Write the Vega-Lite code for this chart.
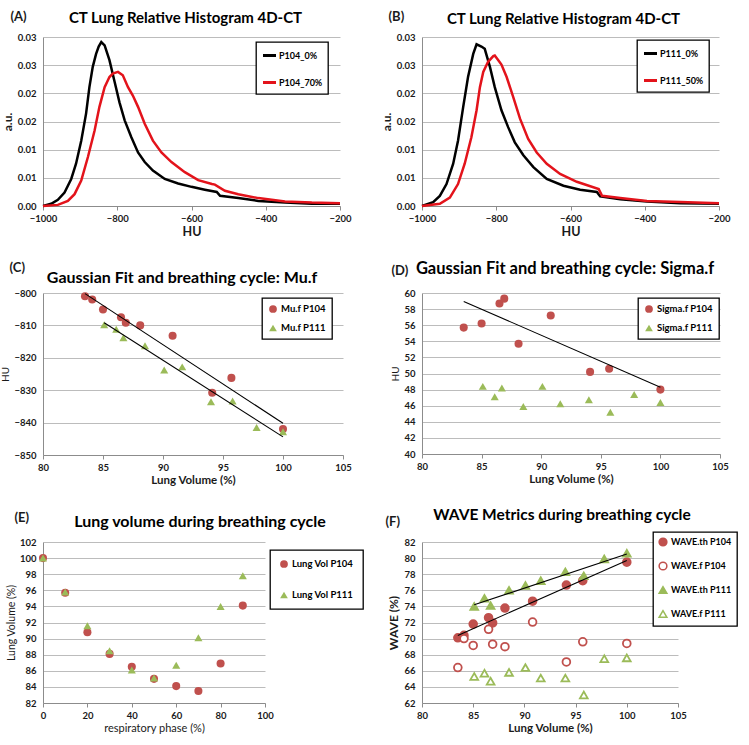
{
  "$schema": "https://vega.github.io/schema/vega-lite/v6.json",
  "padding": {"left": 0, "top": 10, "right": 0, "bottom": 0},
  "background": "white",
  "columns": 2,
  "bounds": "flush",
  "align": "each",
  "spacing": {"row": 87, "column": 79},
  "resolve": {
    "scale": {"color": "independent", "shape": "independent", "fill": "independent", "stroke": "independent"},
    "legend": {"color": "independent", "shape": "independent", "fill": "independent", "stroke": "independent"}
  },
  "config": {
    "font": "Lato",
    "view": {"stroke": null},
    "axis": {"labelFont": "Lato", "labelFontWeight": "bold", "labelFontSize": 9.5, "labelColor": "#1a1a1a", "titleFont": "Lato", "titleFontSize": 11.5, "titleFontWeight": "bold", "titleColor": "#1a1a1a", "domainColor": "#8c8c8c", "tickColor": "#8c8c8c", "gridColor": "#bcbcbc", "labelFlush": false, "labelOverlap": false},
    "axisX": {"grid": false, "tickSize": 4, "labelPadding": 3, "titlePadding": 3},
    "axisY": {"grid": true, "ticks": false, "labelPadding": 7, "titlePadding": 3},
    "legend": {"orient": "none", "strokeColor": "#000000", "strokeWidth": 1.3, "fillColor": "#ffffff", "padding": 6, "labelFont": "Lato", "labelFontSize": 9.5, "labelFontWeight": "bold", "labelColor": "#000000", "rowPadding": 11, "symbolSize": 60, "symbolStrokeWidth": 1.5, "labelOffset": 3},
    "title": {"font": "Lato", "fontSize": 15.5, "fontWeight": "bold", "color": "#000000", "anchor": "middle", "frame": "group"}
  },
  "datasets": {
    "histA": [
      {"HU": -1000, "v": 0, "s": "P104_0%"}, {"HU": -978, "v": 0.0004, "s": "P104_0%"}, {"HU": -960, "v": 0.0011, "s": "P104_0%"}, {"HU": -942, "v": 0.0024, "s": "P104_0%"}, {"HU": -924, "v": 0.0048, "s": "P104_0%"}, {"HU": -911, "v": 0.0075, "s": "P104_0%"}, {"HU": -897, "v": 0.0116, "s": "P104_0%"}, {"HU": -884, "v": 0.0164, "s": "P104_0%"}, {"HU": -875, "v": 0.0211, "s": "P104_0%"}, {"HU": -866, "v": 0.0247, "s": "P104_0%"}, {"HU": -857, "v": 0.027, "s": "P104_0%"}, {"HU": -850, "v": 0.0283, "s": "P104_0%"}, {"HU": -843, "v": 0.0291, "s": "P104_0%"}, {"HU": -834, "v": 0.0285, "s": "P104_0%"}, {"HU": -821, "v": 0.0259, "s": "P104_0%"}, {"HU": -807, "v": 0.022, "s": "P104_0%"}, {"HU": -794, "v": 0.0184, "s": "P104_0%"}, {"HU": -780, "v": 0.0152, "s": "P104_0%"}, {"HU": -762, "v": 0.0122, "s": "P104_0%"}, {"HU": -744, "v": 0.0095, "s": "P104_0%"}, {"HU": -726, "v": 0.0078, "s": "P104_0%"}, {"HU": -704, "v": 0.0063, "s": "P104_0%"}, {"HU": -672, "v": 0.0048, "s": "P104_0%"}, {"HU": -636, "v": 0.004, "s": "P104_0%"}, {"HU": -600, "v": 0.0034, "s": "P104_0%"}, {"HU": -564, "v": 0.0029, "s": "P104_0%"}, {"HU": -532, "v": 0.0025, "s": "P104_0%"}, {"HU": -523, "v": 0.0018, "s": "P104_0%"}, {"HU": -474, "v": 0.0014, "s": "P104_0%"}, {"HU": -420, "v": 0.0009, "s": "P104_0%"}, {"HU": -348, "v": 0.0006, "s": "P104_0%"}, {"HU": -276, "v": 0.0004, "s": "P104_0%"}, {"HU": -200, "v": 0.0004, "s": "P104_0%"},
      {"HU": -1000, "v": 0, "s": "P104_70%"}, {"HU": -960, "v": 0.0002, "s": "P104_70%"}, {"HU": -933, "v": 0.0009, "s": "P104_70%"}, {"HU": -915, "v": 0.0021, "s": "P104_70%"}, {"HU": -897, "v": 0.0045, "s": "P104_70%"}, {"HU": -879, "v": 0.0087, "s": "P104_70%"}, {"HU": -861, "v": 0.0134, "s": "P104_70%"}, {"HU": -848, "v": 0.0176, "s": "P104_70%"}, {"HU": -834, "v": 0.0211, "s": "P104_70%"}, {"HU": -821, "v": 0.0229, "s": "P104_70%"}, {"HU": -812, "v": 0.0235, "s": "P104_70%"}, {"HU": -798, "v": 0.0238, "s": "P104_70%"}, {"HU": -785, "v": 0.0232, "s": "P104_70%"}, {"HU": -771, "v": 0.0211, "s": "P104_70%"}, {"HU": -758, "v": 0.0196, "s": "P104_70%"}, {"HU": -744, "v": 0.0176, "s": "P104_70%"}, {"HU": -726, "v": 0.0146, "s": "P104_70%"}, {"HU": -704, "v": 0.0116, "s": "P104_70%"}, {"HU": -681, "v": 0.0095, "s": "P104_70%"}, {"HU": -654, "v": 0.0078, "s": "P104_70%"}, {"HU": -618, "v": 0.006, "s": "P104_70%"}, {"HU": -582, "v": 0.0046, "s": "P104_70%"}, {"HU": -545, "v": 0.0039, "s": "P104_70%"}, {"HU": -537, "v": 0.0038, "s": "P104_70%"}, {"HU": -510, "v": 0.0027, "s": "P104_70%"}, {"HU": -474, "v": 0.0021, "s": "P104_70%"}, {"HU": -420, "v": 0.0014, "s": "P104_70%"}, {"HU": -348, "v": 0.0008, "s": "P104_70%"}, {"HU": -276, "v": 0.0006, "s": "P104_70%"}, {"HU": -200, "v": 0.0005, "s": "P104_70%"}
    ],
    "histB": [
      {"HU": -1000, "v": 0, "s": "P111_0%"}, {"HU": -970, "v": 0.0007, "s": "P111_0%"}, {"HU": -952, "v": 0.0018, "s": "P111_0%"}, {"HU": -934, "v": 0.0039, "s": "P111_0%"}, {"HU": -916, "v": 0.0075, "s": "P111_0%"}, {"HU": -903, "v": 0.0116, "s": "P111_0%"}, {"HU": -889, "v": 0.0176, "s": "P111_0%"}, {"HU": -876, "v": 0.0229, "s": "P111_0%"}, {"HU": -862, "v": 0.027, "s": "P111_0%"}, {"HU": -853, "v": 0.0287, "s": "P111_0%"}, {"HU": -840, "v": 0.0283, "s": "P111_0%"}, {"HU": -831, "v": 0.0279, "s": "P111_0%"}, {"HU": -817, "v": 0.0247, "s": "P111_0%"}, {"HU": -804, "v": 0.0211, "s": "P111_0%"}, {"HU": -786, "v": 0.017, "s": "P111_0%"}, {"HU": -768, "v": 0.014, "s": "P111_0%"}, {"HU": -750, "v": 0.0113, "s": "P111_0%"}, {"HU": -727, "v": 0.009, "s": "P111_0%"}, {"HU": -700, "v": 0.0069, "s": "P111_0%"}, {"HU": -664, "v": 0.0048, "s": "P111_0%"}, {"HU": -619, "v": 0.0036, "s": "P111_0%"}, {"HU": -574, "v": 0.0029, "s": "P111_0%"}, {"HU": -529, "v": 0.0025, "s": "P111_0%"}, {"HU": -520, "v": 0.0017, "s": "P111_0%"}, {"HU": -466, "v": 0.0012, "s": "P111_0%"}, {"HU": -394, "v": 0.0008, "s": "P111_0%"}, {"HU": -304, "v": 0.0005, "s": "P111_0%"}, {"HU": -200, "v": 0.0004, "s": "P111_0%"},
      {"HU": -1000, "v": 0, "s": "P111_50%"}, {"HU": -952, "v": 0.0004, "s": "P111_50%"}, {"HU": -925, "v": 0.0015, "s": "P111_50%"}, {"HU": -903, "v": 0.0039, "s": "P111_50%"}, {"HU": -885, "v": 0.0075, "s": "P111_50%"}, {"HU": -867, "v": 0.0122, "s": "P111_50%"}, {"HU": -853, "v": 0.017, "s": "P111_50%"}, {"HU": -844, "v": 0.0211, "s": "P111_50%"}, {"HU": -835, "v": 0.0238, "s": "P111_50%"}, {"HU": -822, "v": 0.0256, "s": "P111_50%"}, {"HU": -808, "v": 0.0266, "s": "P111_50%"}, {"HU": -804, "v": 0.0267, "s": "P111_50%"}, {"HU": -795, "v": 0.0259, "s": "P111_50%"}, {"HU": -786, "v": 0.0251, "s": "P111_50%"}, {"HU": -772, "v": 0.0229, "s": "P111_50%"}, {"HU": -754, "v": 0.0193, "s": "P111_50%"}, {"HU": -736, "v": 0.0155, "s": "P111_50%"}, {"HU": -714, "v": 0.0119, "s": "P111_50%"}, {"HU": -691, "v": 0.0095, "s": "P111_50%"}, {"HU": -664, "v": 0.0075, "s": "P111_50%"}, {"HU": -628, "v": 0.0057, "s": "P111_50%"}, {"HU": -583, "v": 0.0043, "s": "P111_50%"}, {"HU": -524, "v": 0.003, "s": "P111_50%"}, {"HU": -515, "v": 0.0018, "s": "P111_50%"}, {"HU": -466, "v": 0.0014, "s": "P111_50%"}, {"HU": -394, "v": 0.0009, "s": "P111_50%"}, {"HU": -304, "v": 0.0007, "s": "P111_50%"}, {"HU": -200, "v": 0.0005, "s": "P111_50%"}
    ],
    "muf": [
      {"s": "Mu.f P104", "x": 100, "y": -842.0}, {"s": "Mu.f P104", "x": 95.7, "y": -826.2}, {"s": "Mu.f P104", "x": 90.8, "y": -813.2}, {"s": "Mu.f P104", "x": 88.1, "y": -810.0}, {"s": "Mu.f P104", "x": 86.5, "y": -807.5}, {"s": "Mu.f P104", "x": 85.0, "y": -805.1}, {"s": "Mu.f P104", "x": 84.1, "y": -802.0}, {"s": "Mu.f P104", "x": 83.5, "y": -801.0}, {"s": "Mu.f P104", "x": 86.9, "y": -809.2}, {"s": "Mu.f P104", "x": 94.1, "y": -830.8},
      {"s": "Mu.f P111", "x": 100, "y": -842.8}, {"s": "Mu.f P111", "x": 95.8, "y": -833.3}, {"s": "Mu.f P111", "x": 91.6, "y": -822.8}, {"s": "Mu.f P111", "x": 88.5, "y": -816.3}, {"s": "Mu.f P111", "x": 86.1, "y": -811.2}, {"s": "Mu.f P111", "x": 85.1, "y": -809.8}, {"s": "Mu.f P111", "x": 86.7, "y": -813.8}, {"s": "Mu.f P111", "x": 90.1, "y": -823.8}, {"s": "Mu.f P111", "x": 94.0, "y": -833.6}, {"s": "Mu.f P111", "x": 97.8, "y": -841.5}
    ],
    "mufTrend": [
      {"g": "P104", "x": 83.5, "y": -800.2}, {"g": "P104", "x": 100, "y": -840.2},
      {"g": "P111", "x": 85.1, "y": -809.2}, {"g": "P111", "x": 100, "y": -844.4}
    ],
    "sigf": [
      {"s": "Sigma.f P104", "x": 100, "y": 48.0}, {"s": "Sigma.f P104", "x": 95.7, "y": 50.6}, {"s": "Sigma.f P104", "x": 90.8, "y": 57.2}, {"s": "Sigma.f P104", "x": 88.1, "y": 53.7}, {"s": "Sigma.f P104", "x": 86.5, "y": 58.7}, {"s": "Sigma.f P104", "x": 85.0, "y": 56.2}, {"s": "Sigma.f P104", "x": 83.5, "y": 55.7}, {"s": "Sigma.f P104", "x": 86.9, "y": 59.3}, {"s": "Sigma.f P104", "x": 94.1, "y": 50.2},
      {"s": "Sigma.f P111", "x": 100, "y": 46.4}, {"s": "Sigma.f P111", "x": 95.8, "y": 45.2}, {"s": "Sigma.f P111", "x": 91.6, "y": 46.25}, {"s": "Sigma.f P111", "x": 88.5, "y": 45.9}, {"s": "Sigma.f P111", "x": 86.1, "y": 47.1}, {"s": "Sigma.f P111", "x": 85.1, "y": 48.4}, {"s": "Sigma.f P111", "x": 86.7, "y": 48.2}, {"s": "Sigma.f P111", "x": 90.1, "y": 48.4}, {"s": "Sigma.f P111", "x": 94.0, "y": 46.75}, {"s": "Sigma.f P111", "x": 97.8, "y": 47.4}
    ],
    "sigfTrend": [
      {"g": "P104", "x": 83.5, "y": 58.95}, {"g": "P104", "x": 100, "y": 48.3}
    ],
    "lv": [
      {"s": "Lung Vol P104", "x": 0, "y": 100}, {"s": "Lung Vol P104", "x": 10, "y": 95.7}, {"s": "Lung Vol P104", "x": 20, "y": 90.8}, {"s": "Lung Vol P104", "x": 30, "y": 88.1}, {"s": "Lung Vol P104", "x": 40, "y": 86.5}, {"s": "Lung Vol P104", "x": 50, "y": 85.0}, {"s": "Lung Vol P104", "x": 60, "y": 84.1}, {"s": "Lung Vol P104", "x": 70, "y": 83.5}, {"s": "Lung Vol P104", "x": 80, "y": 86.9}, {"s": "Lung Vol P104", "x": 90, "y": 94.1},
      {"s": "Lung Vol P111", "x": 0, "y": 100}, {"s": "Lung Vol P111", "x": 10, "y": 95.8}, {"s": "Lung Vol P111", "x": 20, "y": 91.6}, {"s": "Lung Vol P111", "x": 30, "y": 88.5}, {"s": "Lung Vol P111", "x": 40, "y": 86.1}, {"s": "Lung Vol P111", "x": 50, "y": 85.1}, {"s": "Lung Vol P111", "x": 60, "y": 86.7}, {"s": "Lung Vol P111", "x": 70, "y": 90.1}, {"s": "Lung Vol P111", "x": 80, "y": 94.0}, {"s": "Lung Vol P111", "x": 90, "y": 97.8}
    ],
    "wave": [
      {"s": "WAVE.th P104", "x": 83.5, "y": 70.1}, {"s": "WAVE.th P104", "x": 84.1, "y": 70.4}, {"s": "WAVE.th P104", "x": 85.0, "y": 71.8}, {"s": "WAVE.th P104", "x": 86.5, "y": 72.6}, {"s": "WAVE.th P104", "x": 86.9, "y": 71.95}, {"s": "WAVE.th P104", "x": 88.1, "y": 73.8}, {"s": "WAVE.th P104", "x": 90.8, "y": 74.65}, {"s": "WAVE.th P104", "x": 94.1, "y": 76.65}, {"s": "WAVE.th P104", "x": 95.7, "y": 77.2}, {"s": "WAVE.th P104", "x": 100, "y": 79.5},
      {"s": "WAVE.f P104", "x": 83.5, "y": 66.4}, {"s": "WAVE.f P104", "x": 84.1, "y": 70.0}, {"s": "WAVE.f P104", "x": 85.0, "y": 69.15}, {"s": "WAVE.f P104", "x": 86.5, "y": 71.15}, {"s": "WAVE.f P104", "x": 86.9, "y": 69.3}, {"s": "WAVE.f P104", "x": 88.1, "y": 69.0}, {"s": "WAVE.f P104", "x": 90.8, "y": 72.05}, {"s": "WAVE.f P104", "x": 94.1, "y": 67.1}, {"s": "WAVE.f P104", "x": 95.7, "y": 69.6}, {"s": "WAVE.f P104", "x": 100, "y": 69.4},
      {"s": "WAVE.th P111", "x": 85.1, "y": 74.0}, {"s": "WAVE.th P111", "x": 86.1, "y": 75.0}, {"s": "WAVE.th P111", "x": 86.7, "y": 74.1}, {"s": "WAVE.th P111", "x": 88.5, "y": 76.0}, {"s": "WAVE.th P111", "x": 90.1, "y": 76.6}, {"s": "WAVE.th P111", "x": 91.6, "y": 77.2}, {"s": "WAVE.th P111", "x": 94.0, "y": 78.3}, {"s": "WAVE.th P111", "x": 95.8, "y": 77.8}, {"s": "WAVE.th P111", "x": 97.8, "y": 79.9}, {"s": "WAVE.th P111", "x": 100, "y": 80.6},
      {"s": "WAVE.f P111", "x": 85.1, "y": 65.3}, {"s": "WAVE.f P111", "x": 86.1, "y": 65.7}, {"s": "WAVE.f P111", "x": 86.7, "y": 64.7}, {"s": "WAVE.f P111", "x": 88.5, "y": 65.8}, {"s": "WAVE.f P111", "x": 90.1, "y": 66.4}, {"s": "WAVE.f P111", "x": 91.6, "y": 65.1}, {"s": "WAVE.f P111", "x": 94.0, "y": 65.1}, {"s": "WAVE.f P111", "x": 95.8, "y": 63.0}, {"s": "WAVE.f P111", "x": 97.8, "y": 67.5}, {"s": "WAVE.f P111", "x": 100, "y": 67.6}
    ],
    "waveTrend": [
      {"g": "P104", "x": 83.5, "y": 70.4}, {"g": "P104", "x": 100, "y": 79.7},
      {"g": "P111", "x": 85.1, "y": 74.2}, {"g": "P111", "x": 100, "y": 80.5}
    ]
  },
  "concat": [
    {
      "width": 297, "height": 169,
      "title": {"text": "CT Lung Relative Histogram 4D-CT", "dx": -6, "offset": -16, "fontSize": 15},
      "data": {"name": "histA"},
      "encoding": {
        "y": {"field": "v", "type": "quantitative", "scale": {"domain": [0, 0.03], "nice": false}, "axis": {"values": [0, 0.005, 0.01, 0.015, 0.02, 0.025, 0.03], "labelExpr": "format(round(datum.value*100+0.0001)/100, '.2f')", "title": "a.u.", "titleFontSize": 12}},
        "color": {"field": "s", "type": "nominal", "scale": {"domain": ["P104_0%", "P104_70%"], "range": ["#000000", "#e3131b"]}, "legend": {"title": null, "legendX": 213, "legendY": 5, "symbolType": "stroke", "symbolSize": 170, "symbolStrokeWidth": 3, "rowPadding": 12, "padding": 5, "labelFontSize": 9, "labelOffset": 1}}
      },
      "layer": [
        {"transform": [{"filter": "datum.s === 'P104_0%'"}], "mark": {"type": "line", "strokeWidth": 2.5},
         "encoding": {"x": {"field": "HU", "type": "quantitative", "scale": {"domain": [-1000, -200], "nice": false}, "axis": {"orient": "bottom", "values": [-1000, -800, -600, -400, -200], "format": "d", "title": "HU", "titleFontSize": 12.5}}}},
        {"transform": [{"filter": "datum.s === 'P104_70%'"}], "mark": {"type": "line", "strokeWidth": 2.5},
         "encoding": {"x": {"field": "HU", "type": "quantitative", "axis": {"orient": "top", "labels": false, "ticks": false, "domain": false, "grid": false, "title": "(A)", "titleX": -33, "titleY": -17, "titleAlign": "left", "titleBaseline": "alphabetic", "titleFontSize": 13}}}}
      ],
      "resolve": {"axis": {"x": "independent"}}
    },
    {
      "width": 297, "height": 169,
      "title": {"text": "CT Lung Relative Histogram 4D-CT", "dx": -7, "offset": -17, "fontSize": 15},
      "data": {"name": "histB"},
      "encoding": {
        "y": {"field": "v", "type": "quantitative", "scale": {"domain": [0, 0.03], "nice": false}, "axis": {"values": [0, 0.005, 0.01, 0.015, 0.02, 0.025, 0.03], "labelExpr": "format(round(datum.value*100+0.0001)/100, '.2f')", "title": "a.u.", "titleFontSize": 12}},
        "color": {"field": "s", "type": "nominal", "scale": {"domain": ["P111_0%", "P111_50%"], "range": ["#000000", "#e3131b"]}, "legend": {"title": null, "legendX": 215, "legendY": 3, "symbolType": "stroke", "symbolSize": 170, "symbolStrokeWidth": 3, "rowPadding": 12, "padding": 5, "labelFontSize": 9, "labelOffset": 1}}
      },
      "layer": [
        {"transform": [{"filter": "datum.s === 'P111_0%'"}], "mark": {"type": "line", "strokeWidth": 2.5},
         "encoding": {"x": {"field": "HU", "type": "quantitative", "scale": {"domain": [-1000, -200], "nice": false}, "axis": {"orient": "bottom", "values": [-1000, -800, -600, -400, -200], "format": "d", "title": "HU", "titleFontSize": 12.5}}}},
        {"transform": [{"filter": "datum.s === 'P111_50%'"}], "mark": {"type": "line", "strokeWidth": 2.5},
         "encoding": {"x": {"field": "HU", "type": "quantitative", "axis": {"orient": "top", "labels": false, "ticks": false, "domain": false, "grid": false, "title": "(B)", "titleX": -34, "titleY": -17, "titleAlign": "left", "titleBaseline": "alphabetic", "titleFontSize": 13}}}}
      ],
      "resolve": {"axis": {"x": "independent"}}
    },
    {
      "width": 300, "height": 162,
      "title": {"text": "Gaussian Fit and breathing cycle: Mu.f", "dx": -11, "offset": -25, "fontSize": 16},
      "encoding": {
        "y": {"field": "y", "type": "quantitative", "scale": {"domain": [-850, -800], "nice": false, "zero": false}, "axis": {"values": [-850, -840, -830, -820, -810, -800], "title": "HU", "titleFontWeight": "normal", "titleFontSize": 10}}
      },
      "layer": [
        {"data": {"name": "muf"}, "mark": {"type": "point", "filled": true, "opacity": 1, "size": 65},
         "encoding": {
           "x": {"field": "x", "type": "quantitative", "scale": {"domain": [80, 105], "nice": false, "zero": false}, "axis": {"orient": "bottom", "values": [80, 85, 90, 95, 100, 105], "title": "Lung Volume (%)"}},
           "color": {"field": "s", "type": "nominal", "scale": {"domain": ["Mu.f P104", "Mu.f P111"], "range": ["#c0504d", "#9bbb59"]}, "legend": {"title": null, "legendX": 219, "legendY": 5, "rowPadding": 9}},
           "shape": {"field": "s", "type": "nominal", "scale": {"domain": ["Mu.f P104", "Mu.f P111"], "range": ["circle", "triangle-up"]}, "legend": {"title": null, "legendX": 219, "legendY": 5, "rowPadding": 9}}
         }},
        {"data": {"name": "mufTrend"}, "mark": {"type": "line", "color": "#000000", "strokeWidth": 1.1},
         "encoding": {
           "x": {"field": "x", "type": "quantitative", "axis": {"orient": "top", "labels": false, "ticks": false, "domain": false, "grid": false, "title": "(C)", "titleX": -34, "titleY": -22, "titleAlign": "left", "titleBaseline": "alphabetic", "titleFontSize": 13}},
           "detail": {"field": "g", "type": "nominal"}
         }}
      ],
      "resolve": {"axis": {"x": "independent"}}
    },
    {
      "width": 298, "height": 161,
      "title": {"text": "Gaussian Fit and breathing cycle: Sigma.f", "dx": -6, "offset": -13, "fontSize": 16.5},
      "encoding": {
        "y": {"field": "y", "type": "quantitative", "scale": {"domain": [40, 60], "nice": false, "zero": false}, "axis": {"values": [40, 42, 44, 46, 48, 50, 52, 54, 56, 58, 60], "title": "HU", "titleFontWeight": "normal", "titleFontSize": 10}}
      },
      "layer": [
        {"data": {"name": "sigf"}, "mark": {"type": "point", "filled": true, "opacity": 1, "size": 65},
         "encoding": {
           "x": {"field": "x", "type": "quantitative", "scale": {"domain": [80, 105], "nice": false, "zero": false}, "axis": {"orient": "bottom", "values": [80, 85, 90, 95, 100, 105], "title": "Lung Volume (%)"}},
           "color": {"field": "s", "type": "nominal", "scale": {"domain": ["Sigma.f P104", "Sigma.f P111"], "range": ["#c0504d", "#9bbb59"]}, "legend": {"title": null, "legendX": 216, "legendY": 5, "rowPadding": 9}},
           "shape": {"field": "s", "type": "nominal", "scale": {"domain": ["Sigma.f P104", "Sigma.f P111"], "range": ["circle", "triangle-up"]}, "legend": {"title": null, "legendX": 216, "legendY": 5, "rowPadding": 9}}
         }},
        {"data": {"name": "sigfTrend"}, "mark": {"type": "line", "color": "#000000", "strokeWidth": 1.1},
         "encoding": {
           "x": {"field": "x", "type": "quantitative", "axis": {"orient": "top", "labels": false, "ticks": false, "domain": false, "grid": false, "title": "(D)", "titleX": -31, "titleY": -19, "titleAlign": "left", "titleBaseline": "alphabetic", "titleFontSize": 13}},
           "detail": {"field": "g", "type": "nominal"}
         }}
      ],
      "resolve": {"axis": {"x": "independent"}}
    },
    {
      "width": 222, "height": 161,
      "title": {"text": "Lung volume during breathing cycle", "dx": 46, "offset": -19, "fontSize": 16},
      "data": {"name": "lv"},
      "encoding": {
        "y": {"field": "y", "type": "quantitative", "scale": {"domain": [82, 102], "nice": false, "zero": false}, "axis": {"values": [82, 84, 86, 88, 90, 92, 94, 96, 98, 100, 102], "title": "Lung Volume (%)", "titleFontWeight": "normal", "titleFontSize": 10.5}},
        "color": {"field": "s", "type": "nominal", "scale": {"domain": ["Lung Vol P104", "Lung Vol P111"], "range": ["#c0504d", "#9bbb59"]}, "legend": {"title": null, "legendX": 227, "legendY": 8, "rowPadding": 21, "padding": 9}},
        "shape": {"field": "s", "type": "nominal", "scale": {"domain": ["Lung Vol P104", "Lung Vol P111"], "range": ["circle", "triangle-up"]}, "legend": {"title": null, "legendX": 227, "legendY": 8, "rowPadding": 21, "padding": 9}}
      },
      "layer": [
        {"transform": [{"filter": "datum.s === 'Lung Vol P104'"}], "mark": {"type": "point", "filled": true, "opacity": 1, "size": 65},
         "encoding": {"x": {"field": "x", "type": "quantitative", "scale": {"domain": [0, 100], "nice": false}, "axis": {"orient": "bottom", "values": [0, 20, 40, 60, 80, 100], "title": "respiratory phase (%)", "titleFontWeight": "normal", "titleFontSize": 11}}}},
        {"transform": [{"filter": "datum.s === 'Lung Vol P111'"}], "mark": {"type": "point", "filled": true, "opacity": 1, "size": 65},
         "encoding": {"x": {"field": "x", "type": "quantitative", "axis": {"orient": "top", "labels": false, "ticks": false, "domain": false, "grid": false, "title": "(E)", "titleX": -29, "titleY": -21, "titleAlign": "left", "titleBaseline": "alphabetic", "titleFontSize": 13}}}}
      ],
      "resolve": {"axis": {"x": "independent"}}
    },
    {
      "width": 256, "height": 161,
      "title": {"text": "WAVE Metrics during breathing cycle", "dx": 12, "offset": -8, "fontSize": 15.5},
      "encoding": {
        "y": {"field": "y", "type": "quantitative", "scale": {"domain": [62, 82], "nice": false, "zero": false}, "axis": {"values": [62, 64, 66, 68, 70, 72, 74, 76, 78, 80, 82], "title": "WAVE (%)", "titleFontSize": 12}}
      },
      "layer": [
        {"data": {"name": "wave"}, "mark": {"type": "point", "opacity": 1, "size": 60, "strokeWidth": 1.8},
         "encoding": {
           "x": {"field": "x", "type": "quantitative", "scale": {"domain": [80, 105], "nice": false, "zero": false}, "axis": {"orient": "bottom", "values": [80, 85, 90, 95, 100, 105], "title": "Lung Volume (%)"}},
           "fill": {"field": "s", "type": "nominal", "scale": {"domain": ["WAVE.th P104", "WAVE.f P104", "WAVE.th P111", "WAVE.f P111"], "range": ["#c0504d", "#ffffff", "#9bbb59", "#ffffff"]}, "legend": {"title": null, "legendX": 231, "legendY": -10, "rowPadding": 10, "labelFontSize": 9, "padding": 5}},
           "stroke": {"field": "s", "type": "nominal", "scale": {"domain": ["WAVE.th P104", "WAVE.f P104", "WAVE.th P111", "WAVE.f P111"], "range": ["#c0504d", "#c0504d", "#9bbb59", "#9bbb59"]}, "legend": {"title": null, "legendX": 231, "legendY": -10, "rowPadding": 10, "labelFontSize": 9, "padding": 5}},
           "shape": {"field": "s", "type": "nominal", "scale": {"domain": ["WAVE.th P104", "WAVE.f P104", "WAVE.th P111", "WAVE.f P111"], "range": ["circle", "circle", "triangle-up", "triangle-up"]}, "legend": {"title": null, "legendX": 231, "legendY": -10, "rowPadding": 10, "labelFontSize": 9, "padding": 5}}
         }},
        {"data": {"name": "waveTrend"}, "mark": {"type": "line", "color": "#000000", "strokeWidth": 1.1},
         "encoding": {
           "x": {"field": "x", "type": "quantitative", "axis": {"orient": "top", "labels": false, "ticks": false, "domain": false, "grid": false, "title": "(F)", "titleX": -37, "titleY": -17, "titleAlign": "left", "titleBaseline": "alphabetic", "titleFontSize": 13}},
           "detail": {"field": "g", "type": "nominal"}
         }}
      ],
      "resolve": {"axis": {"x": "independent"}}
    }
  ]
}
